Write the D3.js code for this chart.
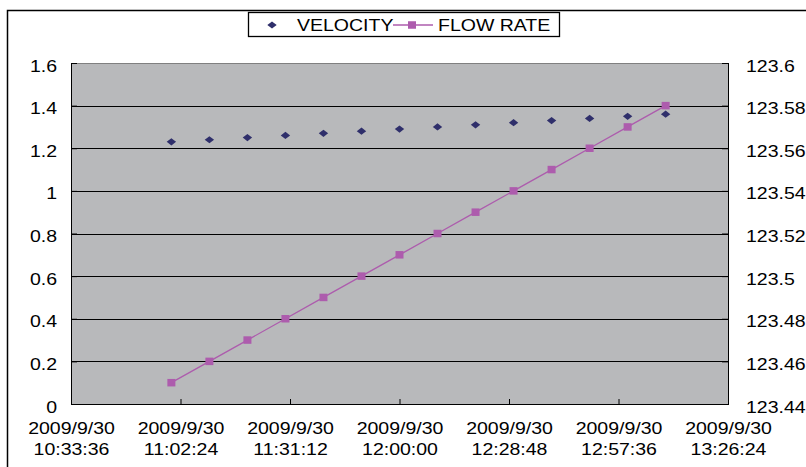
<!DOCTYPE html>
<html>
<head>
<meta charset="utf-8">
<script src="https://cdn.jsdelivr.net/npm/d3@7"></script>
<style>
  html, body { margin: 0; padding: 0; background: #ffffff; }
  svg { display: block; }
  text { font-family: "Liberation Sans", Arial, sans-serif; font-size: 16px; fill: #000; }
</style>
</head>
<body>
<svg id="chart" width="806" height="467"></svg>
<script>
// ---- data ----
const xTickLabels = [
  "2009/9/30 10:33:36", "2009/9/30 11:02:24", "2009/9/30 11:31:12",
  "2009/9/30 12:00:00", "2009/9/30 12:28:48", "2009/9/30 12:57:36",
  "2009/9/30 13:26:24"
];
const times = [
  "2009/9/30 11:00:00", "2009/9/30 11:10:00", "2009/9/30 11:20:00",
  "2009/9/30 11:30:00", "2009/9/30 11:40:00", "2009/9/30 11:50:00",
  "2009/9/30 12:00:00", "2009/9/30 12:10:00", "2009/9/30 12:20:00",
  "2009/9/30 12:30:00", "2009/9/30 12:40:00", "2009/9/30 12:50:00",
  "2009/9/30 13:00:00", "2009/9/30 13:10:00"
];
const velocity = [1.23, 1.24, 1.25, 1.26, 1.27, 1.28, 1.29, 1.30, 1.31, 1.32, 1.33, 1.34, 1.35, 1.36];
const flowRate = [123.45, 123.46, 123.47, 123.48, 123.49, 123.50, 123.51, 123.52, 123.53, 123.54, 123.55, 123.56, 123.57, 123.58];
const leftTicks = [0, 0.2, 0.4, 0.6, 0.8, 1, 1.2, 1.4, 1.6];
const rightTicks = [123.44, 123.46, 123.48, 123.5, 123.52, 123.54, 123.56, 123.58, 123.6];
const seriesNames = ["VELOCITY", "FLOW RATE"];

// ---- layout ----
const L = 71, R = 728, T = 63, B = 404;
const stretch = 1.22;
const velColor = "#2f2f6b";
const flowColor = "#ad5cad";

const parse = d3.timeParse("%Y/%m/%d %H:%M:%S");
const tickDates = xTickLabels.map(parse);
const pts = times.map((t, i) => ({ t: parse(t), v: velocity[i], f: flowRate[i] }));

const x = d3.scaleTime().domain([tickDates[0], tickDates[tickDates.length - 1]]).range([L, R]);
const yL = d3.scaleLinear().domain([0, 1.6]).range([B, T]);
const yR = d3.scaleLinear().domain([123.44, 123.6]).range([B, T]);

const svg = d3.select("#chart");

// outer frame
svg.append("rect").attr("x", 7.5).attr("y", 10.5).attr("width", 900).attr("height", 600)
  .attr("fill", "none").attr("stroke", "#000").attr("stroke-width", 1.5);

// plot area
svg.append("rect").attr("x", L).attr("y", T).attr("width", R - L).attr("height", B - T)
  .attr("fill", "#b8b9bb");

// gridlines
svg.append("g").selectAll("line").data(leftTicks.filter(d => d > 0 && d < 1.6)).join("line")
  .attr("x1", L).attr("x2", R)
  .attr("y1", d => Math.round(yL(d)) + 0.5).attr("y2", d => Math.round(yL(d)) + 0.5)
  .attr("stroke", "#000").attr("stroke-width", 1);

// top border (gray)
svg.append("line").attr("x1", L).attr("x2", R).attr("y1", T + 0.5).attr("y2", T + 0.5)
  .attr("stroke", "#808080").attr("stroke-width", 1);

// left axis
const gL = svg.append("g").attr("transform", `translate(${L},0)`)
  .call(d3.axisLeft(yL).tickValues(leftTicks).tickSize(-6).tickPadding(14).tickFormat(d => String(d)));
gL.select(".domain").remove();
gL.selectAll("line").attr("stroke", "#000");
gL.selectAll("text").attr("y", 3).attr("font-size", 16).attr("font-family", "Liberation Sans, Arial, sans-serif");

// right axis
const gR = svg.append("g").attr("transform", `translate(${R},0)`)
  .call(d3.axisRight(yR).tickValues(rightTicks).tickSize(-6).tickPadding(18).tickFormat(d => String(d)));
gR.select(".domain").remove();
gR.selectAll("line").attr("stroke", "#000");
gR.selectAll("text").attr("y", 3).attr("font-size", 16).attr("font-family", "Liberation Sans, Arial, sans-serif");

// bottom axis
const gB = svg.append("g").attr("transform", `translate(0,${B})`)
  .call(d3.axisBottom(x).tickValues(tickDates).tickSize(-5).tickFormat(() => ""));
gB.select(".domain").remove();
gB.selectAll("line").attr("stroke", "#000");
gB.selectAll(".tick").each(function(d, i) {
  const parts = xTickLabels[i].split(" ");
  const g = d3.select(this);
  g.append("text").attr("x", 0).attr("y", 30).attr("text-anchor", "middle")
    .attr("font-size", 16).attr("font-family", "Liberation Sans, Arial, sans-serif").attr("fill", "#000").text(parts[0]);
  g.append("text").attr("x", 0).attr("y", 51).attr("text-anchor", "middle")
    .attr("font-size", 16).attr("font-family", "Liberation Sans, Arial, sans-serif").attr("fill", "#000").text(parts[1]);
});

// plot borders: left, bottom, right
svg.append("line").attr("x1", L + 0.5).attr("x2", L + 0.5).attr("y1", T).attr("y2", B + 1).attr("stroke", "#000");
svg.append("line").attr("x1", R + 0.5).attr("x2", R + 0.5).attr("y1", T).attr("y2", B + 1).attr("stroke", "#000");
svg.append("line").attr("x1", L).attr("x2", R + 1).attr("y1", B + 0.5).attr("y2", B + 0.5).attr("stroke", "#000");

// marker shapes
const diamond = (cx, cy) => `M${cx},${cy - 3.6}L${cx + 4.7},${cy}L${cx},${cy + 3.6}L${cx - 4.7},${cy}Z`;

// flow rate line + squares
svg.append("path").datum(pts)
  .attr("d", d3.line().x(d => x(d.t)).y(d => yR(d.f)))
  .attr("fill", "none").attr("stroke", flowColor).attr("stroke-width", 1.3);
svg.append("g").selectAll("rect").data(pts).join("rect")
  .attr("x", d => x(d.t) - 4).attr("y", d => yR(d.f) - 3.75)
  .attr("width", 8).attr("height", 7.5).attr("fill", flowColor);

// velocity diamonds
svg.append("g").selectAll("path").data(pts).join("path")
  .attr("d", d => diamond(x(d.t), yL(d.v))).attr("fill", velColor);

// legend
const lg = svg.append("g");
lg.append("rect").attr("x", 248.5).attr("y", 12.5).attr("width", 311).attr("height", 24)
  .attr("fill", "#fff").attr("stroke", "#000").attr("stroke-width", 1.3);
lg.append("path").attr("d", diamond(272, 25)).attr("fill", velColor);
lg.append("text").attr("x", 297).attr("y", 31.5).text(seriesNames[0]);
lg.append("line").attr("x1", 393).attr("x2", 433).attr("y1", 25).attr("y2", 25)
  .attr("stroke", flowColor).attr("stroke-width", 1.3);
lg.append("rect").attr("x", 408).attr("y", 21.25).attr("width", 8).attr("height", 7.5).attr("fill", flowColor);
lg.append("text").attr("x", 438).attr("y", 31.5).text(seriesNames[1]);

// horizontal stretch of text (reference text is wider than its height suggests)
svg.selectAll("text").each(function() {
  const tx = +(this.getAttribute("x") || 0);
  this.setAttribute("transform", `translate(${tx * (1 - stretch)},0) scale(${stretch},1)`);
});
</script>
</body>
</html>
